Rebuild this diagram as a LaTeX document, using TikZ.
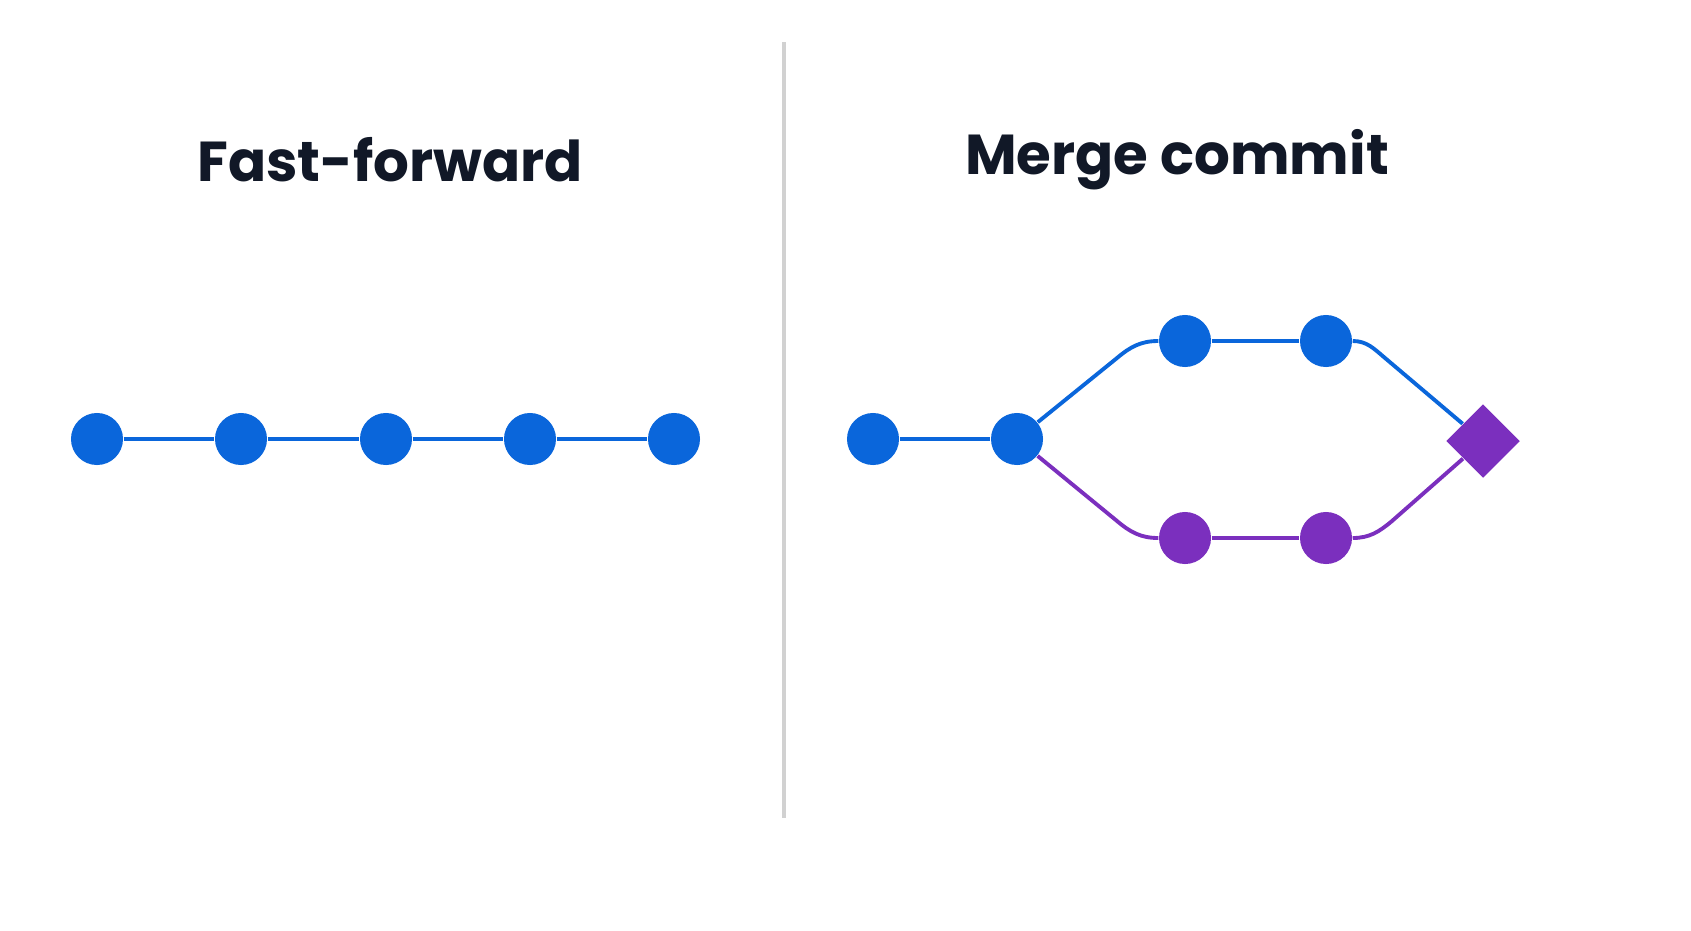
\documentclass[tikz,border=0pt]{standalone}
\usepackage{fontspec}
\setmainfont{Poppins}
\usetikzlibrary{shapes.geometric}
\definecolor{gitblue}{HTML}{0A66DB}
\definecolor{gitpurple}{HTML}{7B2FBE}
\definecolor{titleink}{HTML}{111827}
\tikzset{
  commit/.style={circle,fill=gitblue,minimum size=0.52cm,inner sep=0pt},
  sidecommit/.style={commit,fill=gitpurple},
  mergecommit/.style={diamond,fill=gitpurple,minimum size=0.74cm,inner sep=0pt},
  link/.style={line width=1.1pt,draw=gitblue},
  sidelink/.style={link,draw=gitpurple},
  heading/.style={font=\bfseries\fontsize{16}{19}\selectfont,text=titleink}
}
\begin{document}
\begin{tikzpicture}[x=0.01cm,y=-0.01cm]
\useasboundingbox[fill=white](0,0) rectangle (1691,930);
%divider
\coordinate (dtop) at (784,42);
\coordinate (dbot) at (784,818);
\draw[line width=1pt,draw=black!18](dtop)--(dbot);
%titles
\node[heading](fftitle)at(390,160){Fast-forward};
\node[heading](mctitle)at(1177,160){Merge commit};
%fast-forward chain
\foreach \n/\x in {1/97,2/241,3/386,4/530,5/674}{
\node[commit](f\n)at(\x,439){};
}
\foreach \a/\b in {1/2,2/3,3/4,4/5}{
\draw[link](f\a)--(f\b);
}
%merge commit graph
\node[commit](m1)at(873,439){};
\node[commit](m2)at(1017,439){};
\node[commit](t1)at(1185,341){};
\node[commit](t2)at(1326,341){};
\node[sidecommit](b1)at(1185,538){};
\node[sidecommit](b2)at(1326,538){};
\node[mergecommit](mc)at(1483,441){};
\coordinate (tl) at (1117,358);
\coordinate (tr) at (1385,358);
\coordinate (bl) at (1117,521);
\coordinate (br) at (1392,521);
\draw[link](m1)--(m2);
\draw[link](m2)--(tl) to[out=40,in=180](t1);
\draw[link](t1)--(t2);
\draw[link](t2) to[out=0,in=140](tr)--(mc);
\draw[sidelink](m2)--(bl) to[out=-40,in=180](b1);
\draw[sidelink](b1)--(b2);
\draw[sidelink](b2) to[out=0,in=-140](br)--(mc);
\end{tikzpicture}
\end{document}
